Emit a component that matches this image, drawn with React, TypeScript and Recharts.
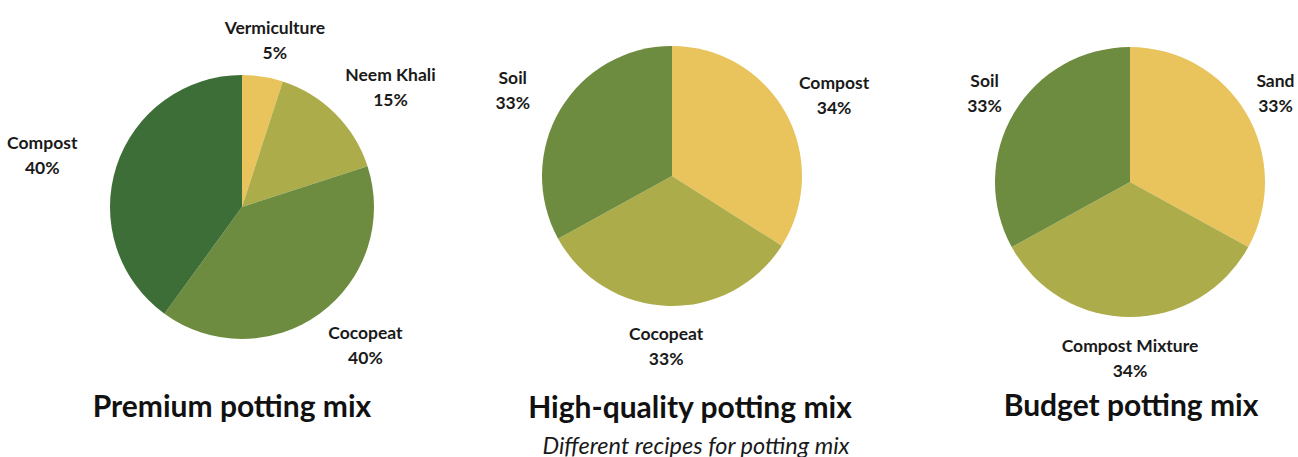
import { PieChart, Pie, Cell } from "recharts";

// recipe 1
const premiumNames = ["Vermiculture", "Neem Khali", "Cocopeat", "Compost"];
const premiumValues = [5, 15, 40, 40];
const premiumColors = ["#E9C35B", "#ADAC4B", "#6E8C3F", "#3E6E37"];

// recipe 2
const highNames = ["Compost", "Cocopeat", "Soil"];
const highValues = [34, 33, 33];
const highColors = ["#E9C35B", "#ADAC4B", "#6E8C3F"];

// recipe 3
const budgetNames = ["Sand", "Compost Mixture", "Soil"];
const budgetValues = [33, 34, 33];
const budgetColors = ["#E9C35B", "#ADAC4B", "#6E8C3F"];

const titles = ["Premium potting mix", "High-quality potting mix", "Budget potting mix"];
const caption = "Different recipes for potting mix";

const toRows = (names: string[], values: number[]) =>
  names.map((name, i) => ({ name, value: values[i] }));

const RADIAN = Math.PI / 180;
const FONT = "Lato, 'Open Sans', sans-serif";

function makeLabel(padX: number, padY: number) {
  return (props: any) => {
    const { cx, cy, midAngle, outerRadius, name, value } = props;
    const a = -midAngle * RADIAN;
    const x = cx + (outerRadius + padX) * Math.cos(a);
    const y = cy + (outerRadius + padY) * Math.sin(a);
    return (
      <g>
        <text x={x} y={y - 12} textAnchor="middle" dominantBaseline="central"
          fontFamily={FONT} fontWeight={700} fontSize={17.5} fill="#1a1a1a">
          {name}
        </text>
        <text x={x} y={y + 13} textAnchor="middle" dominantBaseline="central"
          fontFamily={FONT} fontWeight={700} fontSize={17.5} fill="#1a1a1a">
          {value}%
        </text>
      </g>
    );
  };
}

const titleStyle = (cx: number, cy: number): React.CSSProperties => ({
  position: "absolute",
  left: cx - 250,
  top: cy - 20,
  width: 500,
  height: 40,
  lineHeight: "40px",
  textAlign: "center",
  fontFamily: FONT,
  fontWeight: 700,
  fontSize: 30,
  color: "#111",
  whiteSpace: "nowrap",
});

const noMargin = { top: 0, right: 0, bottom: 0, left: 0 };

export default function App() {
  return (
    <div style={{ position: "absolute", left: 0, top: 0, width: 1298, height: 457, background: "#fff", overflow: "hidden" }}>
      <PieChart width={1298} height={457} margin={noMargin}>
        <Pie data={toRows(premiumNames, premiumValues)} dataKey="value" nameKey="name"
          cx={242} cy={207} outerRadius={132} startAngle={90} endAngle={-270}
          stroke="none" labelLine={false} label={makeLabel(78, 38)} isAnimationActive={false}>
          {premiumColors.map((c, i) => <Cell key={i} fill={c} />)}
        </Pie>
        <Pie data={toRows(highNames, highValues)} dataKey="value" nameKey="name"
          cx={672} cy={176} outerRadius={130} startAngle={90} endAngle={-270}
          stroke="none" labelLine={false} label={makeLabel(55, 40)} isAnimationActive={false}>
          {highColors.map((c, i) => <Cell key={i} fill={c} />)}
        </Pie>
        <Pie data={toRows(budgetNames, budgetValues)} dataKey="value" nameKey="name"
          cx={1130} cy={182} outerRadius={135} startAngle={90} endAngle={-270}
          stroke="none" labelLine={false} label={makeLabel(34, 40)} isAnimationActive={false}>
          {budgetColors.map((c, i) => <Cell key={i} fill={c} />)}
        </Pie>
      </PieChart>
      <div style={titleStyle(232, 405)}>{titles[0]}</div>
      <div style={titleStyle(690, 406)}>{titles[1]}</div>
      <div style={titleStyle(1131, 404)}>{titles[2]}</div>
      <div style={{ ...titleStyle(696, 445), fontSize: 23.5, fontWeight: 400, fontStyle: "italic", color: "#1a1a1a" }}>
        {caption}
      </div>
    </div>
  );
}
